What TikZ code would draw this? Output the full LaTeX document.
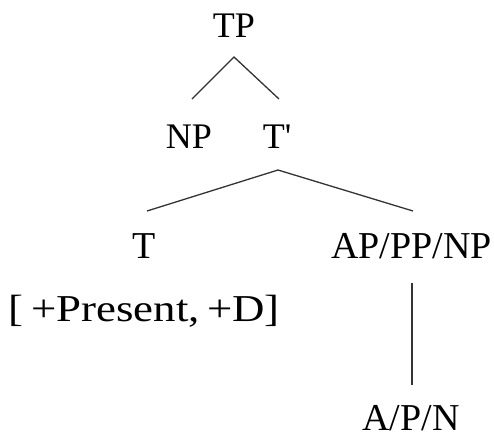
\documentclass[tikz,border=0pt]{standalone}
\usepackage{fontspec}
\usepackage{graphicx}
\setmainfont{Liberation Serif}[Ligatures=TeXOff]
\usetikzlibrary{calc}
\tikzset{
  lbl/.style={inner sep=0pt, anchor=base, text=black},
  big/.style={lbl, font=\fontsize{36}{40}\selectfont},
  low/.style={lbl, font=\fontsize{38}{42}\selectfont},
  branch/.style={draw=black!80, line width=1.3pt}
}
\begin{document}
\begin{tikzpicture}[x=1pt, y=-1pt]
\useasboundingbox (0,0) rectangle (494,437);
\node[big] (TP) at (234,37) {TP};
\node[big] (NP) at (189,148) {NP};
\node[big] (Tb) at (277,148) {T\textquotesingle};
\node[low] (T) at (144,258) {T};
\node[low] (XP) at (411.5,258) {AP/PP/NP};
\node[low] (feat) at (144,321) {\scalebox{1.18}[1]{[\hspace{6.8pt}+Present,\hspace{6.3pt}+D]}};
\node[low] (X) at (411,430) {A/P/N};
\draw[branch] ($(NP.base)+(3,-49)$) -- ($(TP.base)+(0,20)$) -- ($(Tb.base)+(2,-49)$);
\draw[branch] ($(T.base)+(3,-47)$) -- ($(Tb.base)+(1,22)$) -- ($(XP.base)+(1.5,-47)$);
\draw[branch] ($(XP.base)+(0.5,25)$) -- ($(X.base)+(1,-45)$);
\end{tikzpicture}
\end{document}
